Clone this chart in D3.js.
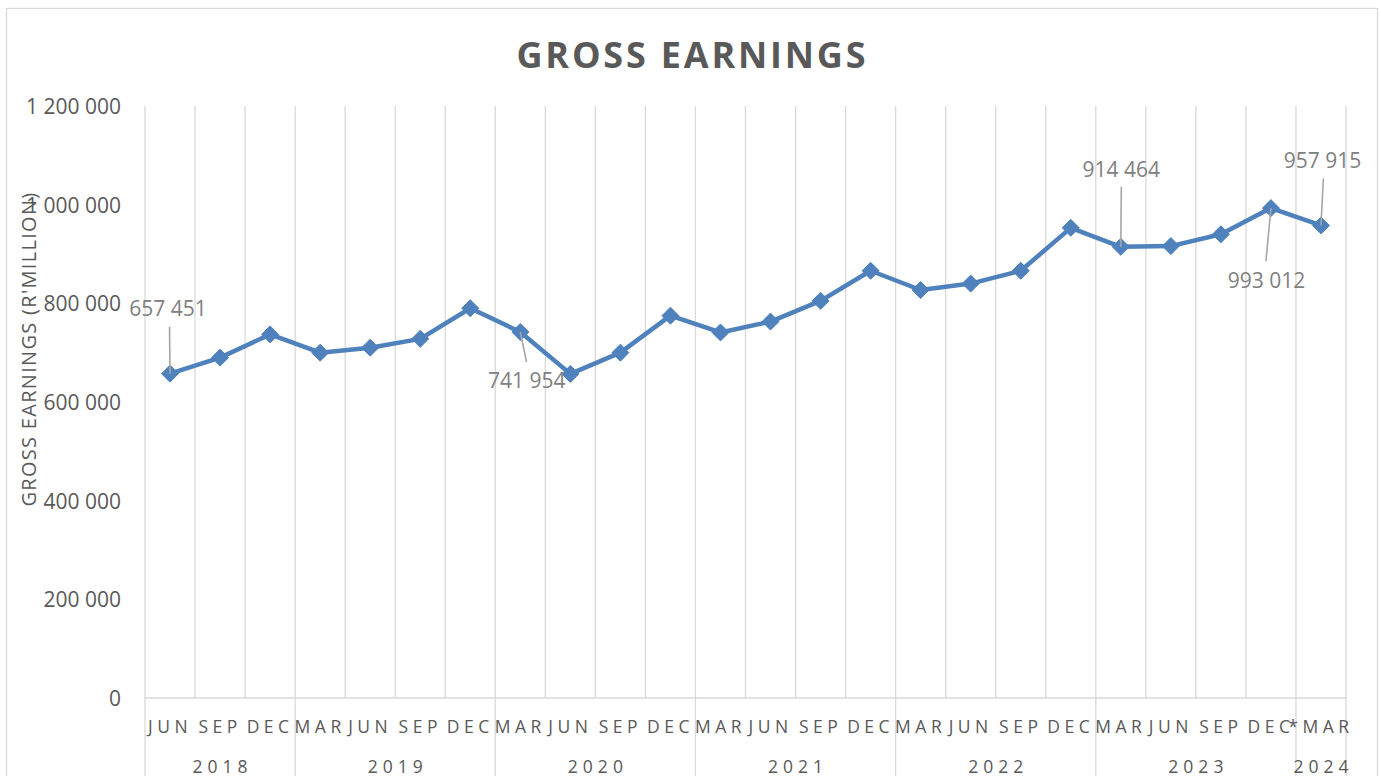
<!DOCTYPE html>
<html>
<head>
<meta charset="utf-8">
<script src="https://cdn.jsdelivr.net/npm/d3@7"></script>
<style>
  html, body { margin: 0; padding: 0; background: #ffffff; }
  svg { display: block; }
  text { font-family: "Open Sans", "Noto Sans", sans-serif; }
</style>
</head>
<body>
<div id="chart"></div>
<script>
// ---------------- DATA ----------------
const quarters = ["JUN","SEP","DEC","MAR","JUN","SEP","DEC","MAR","JUN","SEP","DEC","MAR",
                  "JUN","SEP","DEC","MAR","JUN","SEP","DEC","MAR","JUN","SEP","DEC","*MAR"];
const years = ["2018","2018","2018","2019","2019","2019","2019","2020","2020","2020","2020","2021",
               "2021","2021","2021","2022","2022","2022","2022","2023","2023","2023","2023","2024"];
const earnings = [657451, 690000, 737000, 700000, 710000, 728000, 790000, 741954, 657000, 700000,
                  775000, 741000, 763000, 805000, 866000, 827000, 840000, 866000, 953000, 914464,
                  916000, 940000, 993012, 957915];
const labelledPoints = [0, 7, 19, 22, 23];
const yTicks = [0, 200000, 400000, 600000, 800000, 1000000, 1200000];
const chartTitle = "GROSS EARNINGS";
const yAxisTitle = "GROSS EARNINGS (R'MILLION)";

// ---------------- LAYOUT / STYLE ----------------
const W = 1381, H = 776;
const plot = { left: 145, right: 1346, top: 106, bottom: 698 };
const lineColor = "#4f81bd";
const gridColor = "#d9d9d9";
const textColor = "#595959";
const labelColor = "#808080";
// label offsets relative to the point (text centre / baseline) and leader start
const labelStyle = {
  0:  { dx: -2,  dy: -58, lx: -0.5, ly: -47 },
  7:  { dx: 6.5, dy: 56,  lx: 6.2,  ly: 30 },
  19: { dx: 0.5, dy: -70, lx: 0.5,  ly: -60 },
  22: { dx: -4.5,dy: 80,  lx: -5,   ly: 53 },
  23: { dx: 1.5, dy: -57, lx: 2.4,  ly: -47 }
};

const keys = quarters.map((q, i) => years[i] + "-" + q + "-" + i);

const svg = d3.select("#chart").append("svg")
  .attr("width", W).attr("height", H);

svg.append("rect").attr("x", 0).attr("y", 0).attr("width", W).attr("height", H).attr("fill", "#fff");
// chart frame
svg.append("rect").attr("x", 6.5).attr("y", 8.5).attr("width", 1371).attr("height", 820)
  .attr("fill", "none").attr("stroke", gridColor).attr("stroke-width", 1.3);

const x = d3.scaleBand().domain(keys).range([plot.left, plot.right]).padding(0);
const y = d3.scaleLinear().domain([0, 1200000]).range([plot.bottom, plot.top]);

// vertical gridlines at category boundaries
const boundaries = keys.map(k => x(k)).concat([plot.right]);
const yearStarts = new Set();
years.forEach((yr, i) => { if (i === 0 || years[i - 1] !== yr) yearStarts.add(i); });

svg.append("g").selectAll("line").data(boundaries).join("line")
  .attr("x1", d => d).attr("x2", d => d)
  .attr("y1", plot.top)
  .attr("y2", (d, i) => (yearStarts.has(i) || i === keys.length) ? H : plot.bottom)
  .attr("stroke", gridColor).attr("stroke-width", 1.3);

// horizontal axis line
svg.append("line").attr("x1", plot.left).attr("x2", plot.right)
  .attr("y1", plot.bottom).attr("y2", plot.bottom)
  .attr("stroke", gridColor).attr("stroke-width", 1.3);

// Y axis
const loc = d3.formatLocale({ decimal: ".", thousands: " ", grouping: [3], currency: ["", ""] });
const fmt = loc.format(",d");
const yAxis = svg.append("g").attr("transform", `translate(121,0)`)
  .call(d3.axisLeft(y).tickValues(yTicks).tickFormat(fmt).tickSize(0).tickPadding(0));
yAxis.select(".domain").remove();
yAxis.selectAll("text")
  .attr("fill", textColor).style("font-size", "21px")
  .attr("dy", "0.36em");

// X axis category labels
const xAxis = svg.append("g").attr("transform", `translate(0,${plot.bottom})`)
  .call(d3.axisBottom(x).tickFormat((d, i) => quarters[i]).tickSize(0).tickPadding(0));
xAxis.select(".domain").remove();
xAxis.selectAll("text")
  .attr("fill", textColor).style("font-size", "17.5px")
  .style("letter-spacing", "4.5px")
  .attr("y", 35).attr("dy", 0);

// Year labels
const yearGroups = d3.groups(keys.map((k, i) => ({ k, yr: years[i] })), d => d.yr);
svg.append("g").selectAll("text").data(yearGroups).join("text")
  .attr("x", g => (x(g[1][0].k) + x(g[1][g[1].length - 1].k) + x.bandwidth()) / 2 + 2.5)
  .attr("y", 773)
  .attr("text-anchor", "middle")
  .attr("fill", textColor).style("font-size", "17.5px").style("letter-spacing", "5px")
  .text(g => g[0]);

// Title
svg.append("text").attr("x", 691 + 1.4).attr("y", 68)
  .attr("text-anchor", "middle").attr("fill", textColor)
  .style("font-size", "36px").style("font-weight", "bold").style("letter-spacing", "2.8px")
  .text(chartTitle);

// Y axis title
svg.append("text")
  .attr("transform", `translate(36,349) rotate(-90)`)
  .attr("text-anchor", "middle").attr("fill", textColor)
  .style("font-size", "20px").style("letter-spacing", "1.3px")
  .text(yAxisTitle);

// Line
const cx = i => x(keys[i]) + x.bandwidth() / 2;
const line = d3.line().x((d, i) => cx(i)).y(d => y(d));
svg.append("path").datum(earnings)
  .attr("d", line).attr("fill", "none")
  .attr("stroke", lineColor).attr("stroke-width", 4.5).attr("stroke-linejoin", "round");

// Diamond markers
const r = 8.5;
svg.append("g").selectAll("path").data(earnings).join("path")
  .attr("d", (d, i) => {
    const px = cx(i), py = y(d);
    return `M${px},${py - r}L${px + r},${py}L${px},${py + r}L${px - r},${py}Z`;
  })
  .attr("fill", lineColor).attr("stroke", lineColor).attr("stroke-width", 1);

// Data labels with leader lines
const lbl = svg.append("g");
labelledPoints.forEach(i => {
  const s = labelStyle[i];
  const px = cx(i), py = y(earnings[i]);
  lbl.append("line")
    .attr("x1", px + s.lx).attr("y1", py + s.ly)
    .attr("x2", px).attr("y2", py)
    .attr("stroke", "#a6a6a6").attr("stroke-width", 1.6);
  lbl.append("text")
    .attr("x", px + s.dx).attr("y", py + s.dy)
    .attr("text-anchor", "middle").attr("fill", labelColor)
    .style("font-size", "21px")
    .text(fmt(earnings[i]));
});
</script>
</body>
</html>
